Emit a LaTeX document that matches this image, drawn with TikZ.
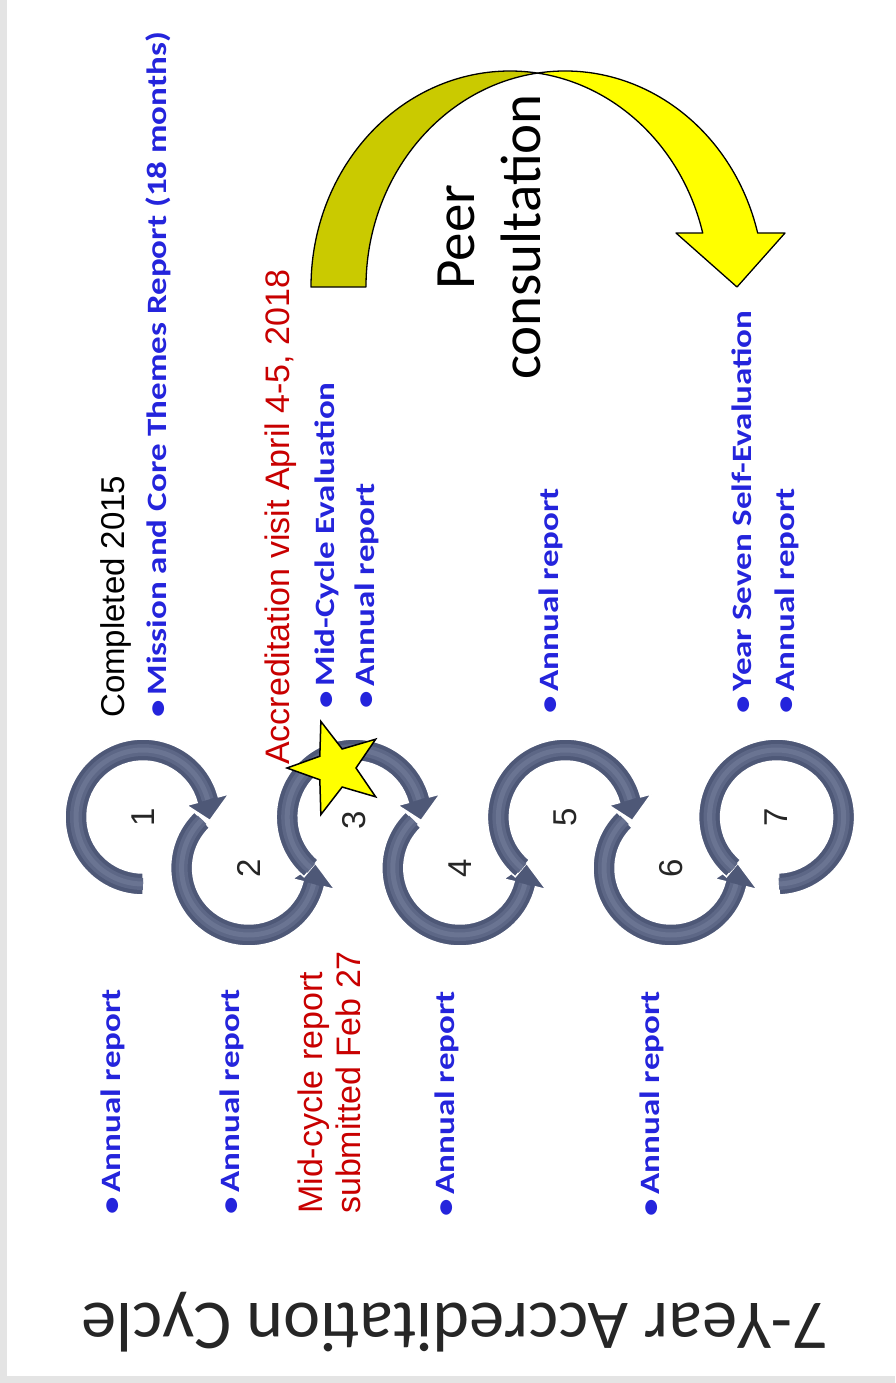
\documentclass[tikz,border=0pt]{standalone}
\usepackage{fontspec}
\setmainfont{Carlito}
\newfontfamily\bluefont[FakeStretch=1.25]{Carlito}
\newfontfamily\arialfont{Liberation Sans}
\newfontfamily\titlefont[Kerning=Off]{Carlito}
\definecolor{ringdark}{HTML}{4E5877}
\definecolor{ringmid}{HTML}{5D6786}
\definecolor{ringlight}{HTML}{6A7492}
\definecolor{myblue}{HTML}{2424DC}
\definecolor{myred}{HTML}{C80000}
\definecolor{yback}{HTML}{CACA00}
\definecolor{yfront}{HTML}{FFFF00}
\definecolor{framegray}{HTML}{E4E4E4}
\tikzset{
  ringfill/.style={fill=ringdark, draw=white, line width=1.5pt},
  ringhi/.style={draw=ringmid, line width=12pt},
  ringhitwo/.style={draw=ringlight, line width=5pt},
  bluetext/.style={rotate=90, anchor=west, inner sep=0pt, text=myblue,
    font=\bluefont\bfseries\fontsize{28}{32}\selectfont},
  redtext/.style={rotate=90, anchor=west, inner sep=0pt, text=myred,
    font=\arialfont\fontsize{34}{38}\selectfont},
  blacktext/.style={rotate=90, anchor=west, inner sep=0pt, text=black,
    font=\arialfont\fontsize{33}{38}\selectfont},
  numtext/.style={rotate=90, inner sep=0pt, text=black!85,
    font=\arialfont\fontsize{33}{33}\selectfont},
  yellowback/.style={fill=yback, draw=black, line width=1.3pt, line join=round},
  yellowfront/.style={fill=yfront, draw=black, line width=1.3pt, line join=round},
  starstyle/.style={fill=yfront, draw=black, line width=1.5pt, line join=miter},
}
\newcommand{\ringarrow}[5]{%
  \begin{scope}[shift={(#1,-#2)}]
    \path[ringfill] (#3:78) arc[start angle=#3, end angle=#4, radius=78]
      -- (#4:89) -- (#5:67) -- (#4:45) -- (#4:56)
      arc[start angle=#4, end angle=#3, radius=56] -- cycle;
    \draw[ringhi] (#3:67) arc[start angle=#3, end angle=#4, radius=67];
    \draw[ringhitwo] (#3:67) arc[start angle=#3, end angle=#4, radius=67];
  \end{scope}}
\newcommand{\ringflat}[4]{%
  \begin{scope}[shift={(#1,-#2)}]
    \path[ringfill] (#3:78) arc[start angle=#3, end angle=#4, radius=78]
      -- (#4:56) arc[start angle=#4, end angle=#3, radius=56] -- cycle;
    \draw[ringhi] (#3:67) arc[start angle=#3, end angle=#4, radius=67];
    \draw[ringhitwo] (#3:67) arc[start angle=#3, end angle=#4, radius=67];
  \end{scope}}
\begin{document}
\begin{tikzpicture}[x=1pt, y=1pt]
\useasboundingbox (0,0) rectangle (895,-1383);
\fill[white] (0,0) rectangle (895,-1383);
\fill[framegray] (0,0) rectangle (7,-1383);
\fill[framegray] (0,-1376) rectangle (895,-1383);

% rings
\ringarrow{143}{817}{270}{15}{-3}
\ringarrow{248.6}{868}{134}{346}{364}
\ringarrow{354.2}{817}{230}{15}{-3}
\ringarrow{459.8}{868}{134}{346}{364}
\ringarrow{565.4}{817}{230}{15}{-3}
\ringarrow{671}{868}{134}{346}{364}
\ringflat{776.6}{817}{230}{-88}

% ring numbers
\node[numtext] (n1) at (143,-817) {1};
\node[numtext] (n2) at (248.6,-868) {2};
\node[numtext] (n3) at (354.2,-820) {3};
\node[numtext] (n4) at (459.8,-868) {4};
\node[numtext] (n5) at (565.4,-817) {5};
\node[numtext] (n6) at (671,-868) {6};
\node[numtext] (n7) at (776.6,-817) {7};

% star
\begin{scope}[shift={(336,-768)}]
  \draw[starstyle] (180:49) -- (144:20) -- (108:49) -- (72:20) -- (36:49)
    -- (0:20) -- (-36:49) -- (-72:20) -- (-108:49) -- (-144:20) -- cycle;
\end{scope}

% yellow curved arrow (peer consultation)
\path[yellowback] (311,-287)
  arc[start angle=180, end angle=82.06, x radius=199, y radius=216]
  arc[start angle=97.94, end angle=180, x radius=199, y radius=216] -- cycle;
\path[yellowfront] (537.5,-73.07)
  arc[start angle=97.94, end angle=14.48, x radius=199, y radius=216]
  -- (785,-233) -- (737,-287) -- (676,-233) -- (702.7,-233)
  arc[start angle=14.48, end angle=82.06, x radius=199, y radius=216] -- cycle;

\node[rotate=90, align=center, inner sep=0pt, font=\fontsize{57}{66}\selectfont]
  (peer) at (489,-237) {Peer\\consultation};

% left column (below the rings)
\node[bluetext] (ar1) at (113,-1215) {\textbullet\hspace{5pt}Annual report};
\node[bluetext] (ar2) at (232,-1215) {\textbullet\hspace{5pt}Annual report};
\node[redtext, align=left] (midrep) at (329,-1214) {Mid-cycle report\\submitted Feb 27};
\node[bluetext] (ar4) at (447,-1217) {\textbullet\hspace{5pt}Annual report};
\node[bluetext] (ar6) at (652,-1217) {\textbullet\hspace{5pt}Annual report};

% right column (above the rings)
\node[blacktext] (done) at (116,-718) {Completed 2015};
\node[bluetext] (mission) at (158,-718) {\textbullet\hspace{5pt}Mission and Core Themes Report (18 months)};
\node[redtext] (visit) at (281,-765) {Accreditation visit April 4-5, 2018};
\node[bluetext] (mideval) at (327,-709) {\textbullet\hspace{5pt}Mid-Cycle Evaluation};
\node[bluetext] (ar3) at (367,-709) {\textbullet\hspace{5pt}Annual report};
\node[bluetext] (ar5) at (551,-714) {\textbullet\hspace{5pt}Annual report};
\node[bluetext] (yseven) at (742,-714) {\textbullet\hspace{5pt}Year Seven Self-Evaluation};
\node[bluetext] (ar7) at (787,-714) {\textbullet\hspace{5pt}Annual report};

% title (upside down)
\node[rotate=180, inner sep=0pt, text=black!85, font=\titlefont\fontsize{70}{74}\selectfont]
  (title) at (455,-1322) {7-Year Accreditation Cycle};
\end{tikzpicture}
\end{document}
